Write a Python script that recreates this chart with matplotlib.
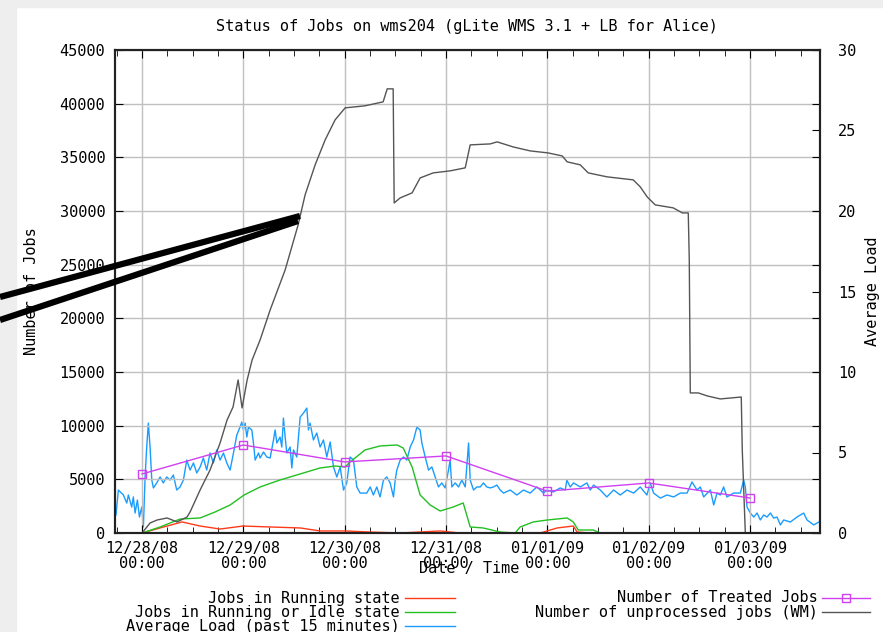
import matplotlib
matplotlib.use("Agg")
import matplotlib.pyplot as plt
from matplotlib.lines import Line2D
from matplotlib.patches import Rectangle
from matplotlib.ticker import MultipleLocator

# ---------------- data (x in days since 12/28/08 00:00) ----------------
tick_labels = ["12/28/08\n00:00", "12/29/08\n00:00", "12/30/08\n00:00", "12/31/08\n00:00",
               "01/01/09\n00:00", "01/02/09\n00:00", "01/03/09\n00:00"]

running_x = [0.0, 0.178, 0.395, 0.573, 0.770, 0.997, 1.264, 1.560, 1.757, 2.004, 2.251,
             2.547, 2.942, 3.139, 3.929, 4.097, 4.255, 4.294, 4.422, 5.953]
running_y = [0, 470, 1030, 650, 370, 650, 560, 470, 190, 190, 90,
             0, 190, 0, 0, 470, 650, 90, 0, 0]

idle_x = [0.0, 0.178, 0.375, 0.573, 0.721, 0.869, 1.007, 1.165, 1.362, 1.560, 1.757, 1.905,
          2.004, 2.053, 2.201, 2.349, 2.517, 2.577, 2.665, 2.744, 2.843, 2.942, 3.070, 3.169,
          3.238, 3.366, 3.534, 3.682, 3.731, 3.860, 3.998, 4.195, 4.255, 4.304, 4.452, 4.521, 5.973]
idle_y = [0, 560, 1300, 1400, 1960, 2610, 3540, 4290, 4940, 5500, 6060, 6240,
          6150, 6620, 7740, 8110, 8200, 7920, 6150, 3540, 2610, 2050, 2420, 2800,
          560, 470, 90, 0, 560, 1030, 1210, 1400, 1030, 280, 280, 0, 0]

load_x = [-0.257, -0.234, -0.184, -0.151, -0.135, -0.102, -0.086, -0.069, -0.046, -0.026,
          -0.003, 0.013, 0.030, 0.046, 0.062, 0.079, 0.096, 0.112, 0.145, 0.178, 0.210, 0.243,
          0.276, 0.309, 0.342, 0.375, 0.408, 0.441, 0.474, 0.507, 0.540, 0.573, 0.605, 0.638,
          0.671, 0.704, 0.737, 0.770, 0.803, 0.836, 0.869, 0.902, 0.935, 0.967, 0.984, 1.000,
          1.017, 1.034, 1.050, 1.083, 1.099, 1.116, 1.149, 1.165, 1.198, 1.231, 1.264, 1.297,
          1.313, 1.330, 1.362, 1.379, 1.395, 1.412, 1.428, 1.461, 1.478, 1.494, 1.527, 1.560,
          1.593, 1.626, 1.642, 1.658, 1.691, 1.724, 1.757, 1.790, 1.823, 1.856, 1.889, 1.922,
          1.955, 1.988, 2.020, 2.053, 2.086, 2.119, 2.152, 2.218, 2.251, 2.283, 2.316, 2.349,
          2.382, 2.415, 2.448, 2.481, 2.498, 2.514, 2.547, 2.580, 2.613, 2.646, 2.679, 2.712,
          2.744, 2.761, 2.794, 2.827, 2.860, 2.892, 2.925, 2.958, 2.991, 3.024, 3.040, 3.057,
          3.090, 3.123, 3.156, 3.189, 3.222, 3.238, 3.271, 3.304, 3.337, 3.369, 3.402, 3.435,
          3.468, 3.501, 3.534, 3.567, 3.633, 3.699, 3.764, 3.830, 3.896, 3.962, 3.995, 4.060,
          4.126, 4.176, 4.192, 4.225, 4.258, 4.324, 4.390, 4.423, 4.456, 4.521, 4.587, 4.653,
          4.719, 4.785, 4.851, 4.916, 4.982, 5.015, 5.048, 5.114, 5.180, 5.246, 5.312, 5.378,
          5.427, 5.476, 5.509, 5.542, 5.608, 5.641, 5.674, 5.706, 5.739, 5.772, 5.838, 5.904,
          5.937, 5.953, 5.970, 6.003, 6.036, 6.069, 6.101, 6.134, 6.167, 6.200, 6.233, 6.266,
          6.299, 6.332, 6.397, 6.463, 6.529, 6.562, 6.628, 6.678]
load_y = [1.12, 2.67, 2.36, 1.86, 2.36, 1.61, 2.24, 1.24, 2.05, 0.99,
          1.61, 0.37, 3.48, 5.34, 6.83, 5.34, 3.29, 2.80, 3.11, 3.48, 3.11, 3.48,
          3.29, 3.60, 2.67, 2.86, 3.29, 4.53, 3.91, 4.35, 3.73, 4.10, 4.66, 3.91,
          4.97, 4.35, 5.16, 4.53, 4.97, 4.35, 3.91, 4.97, 6.09, 6.58, 6.89, 6.40,
          6.83, 5.96, 6.58, 6.40, 5.59, 4.53, 4.97, 4.66, 5.03, 4.72, 4.66, 5.78,
          6.40, 5.59, 5.96, 5.34, 7.14, 5.96, 4.97, 5.34, 4.04, 5.16, 4.72, 7.20,
          7.45, 7.76, 6.40, 6.83, 5.78, 6.21, 5.34, 5.78, 4.72, 5.65, 4.10, 3.48,
          4.10, 2.67, 3.11, 4.72, 4.53, 2.86, 2.48, 2.48, 2.86, 2.36, 2.86, 2.24,
          3.29, 3.48, 3.11, 2.24, 3.29, 3.91, 4.53, 4.72, 4.53, 5.34, 5.78, 6.58,
          6.40, 5.59, 4.72, 3.91, 4.10, 3.48, 2.86, 3.11, 2.80, 3.91, 4.53, 2.86,
          3.11, 2.86, 3.29, 2.86, 5.59, 3.29, 2.67, 2.86, 2.86, 3.11, 2.86, 2.80,
          2.86, 2.98, 2.67, 2.48, 2.67, 2.36, 2.67, 2.48, 2.86, 2.48, 2.67, 2.55,
          2.80, 2.67, 3.29, 2.86, 3.11, 2.86, 3.11, 2.67, 2.98, 2.67, 2.24, 2.67,
          2.36, 2.67, 2.48, 2.86, 2.36, 3.11, 2.48, 2.17, 2.36, 2.24, 2.48, 2.48,
          3.17, 2.67, 2.86, 2.24, 2.67, 1.74, 2.48, 2.36, 2.86, 2.24, 2.48, 2.48,
          3.29, 2.86, 1.61, 1.24, 0.99, 1.24, 0.81, 1.12, 0.99, 1.24, 0.93, 0.99,
          0.50, 0.81, 0.68, 0.99, 1.24, 0.81, 0.50, 0.68]

treated_x = [0, 1, 2, 3, 4, 5, 6]
treated_y = [5500, 8200, 6620, 7180, 3900, 4660, 3260]

unproc_x = [0.0, 0.079, 0.148, 0.247, 0.346, 0.444, 0.474, 0.573, 0.671, 0.770, 0.839, 0.898,
            0.948, 0.987, 1.037, 1.086, 1.165, 1.264, 1.412, 1.540, 1.609, 1.708, 1.807, 1.905,
            2.004, 2.201, 2.379, 2.419, 2.478, 2.483, 2.488, 2.547, 2.665, 2.744, 2.873, 3.040,
            3.189, 3.238, 3.435, 3.504, 3.662, 3.830, 4.008, 4.146, 4.195, 4.324, 4.403, 4.590,
            4.847, 4.916, 4.985, 5.064, 5.242, 5.331, 5.390, 5.400, 5.410, 5.489, 5.578, 5.706,
            5.913, 5.923, 5.953]
unproc_y = [0, 930, 1210, 1400, 1030, 1490, 1960, 4010, 5870, 8390, 10530, 11740,
            14260, 11650, 14260, 16120, 17990, 20780, 24510, 28700, 31500, 34300, 36630, 38490,
            39610, 39800, 40170, 41380, 41380, 35970, 30750, 31220, 31690, 33080, 33550, 33740,
            34020, 36160, 36250, 36440, 35970, 35600, 35410, 35130, 34580, 34300, 33550, 33180,
            32900, 32250, 31310, 30570, 30290, 29820, 29820, 25440, 13050, 13050, 12770, 12490,
            12670, 7740, 0]

legend_left = ["Jobs in Running state", "Jobs in Running or Idle state", "Average Load (past 15 minutes)"]
legend_right = ["Number of Treated Jobs", "Number of unprocessed jobs (WM)"]

# ---------------- style ----------------
C_RED = "#ff3a1a"
C_GREEN = "#22c022"
C_BLUE = "#1a9cff"
C_MAG = "#d040f0"
C_GRAY = "#555555"
FONT = "DejaVu Sans Mono"
FS = 11
plt.rcParams["font.family"] = FONT

W, H = 883, 632
fig = plt.figure(figsize=(W / 100, H / 100), dpi=100)
fig.patch.set_facecolor("white")

def fx(px):
    return px / W

def fy(py):
    return 1 - py / H

# grey frame strips
fig.add_artist(Rectangle((0, 0), fx(16), 1, transform=fig.transFigure, color="#eeeeee", zorder=0))
fig.add_artist(Rectangle((0, fy(7)), 1, 7 / H, transform=fig.transFigure, color="#eeeeee", zorder=0))

L, R, T, B = 115, 820, 50, 533
ax = fig.add_axes([fx(L), fy(B), (R - L) / W, (B - T) / H])
ax2 = ax.twinx()
ax.set_zorder(ax2.get_zorder() + 1)
ax.patch.set_visible(False)

lw = 1.0
ax2.plot(load_x, load_y, color=C_BLUE, lw=lw)
ax.plot(running_x, running_y, color=C_RED, lw=lw)
ax.plot(idle_x, idle_y, color=C_GREEN, lw=lw)
ax.plot(unproc_x, unproc_y, color=C_GRAY, lw=lw)
ax.plot(treated_x, treated_y, color=C_MAG, lw=lw, marker="s", ms=5.5, mfc="none", mec=C_MAG, mew=1.0)

ax.set_xlim(-0.267, 6.69)
ax.set_ylim(0, 45000)
ax2.set_ylim(0, 30)
ax.set_xticks(range(len(tick_labels)))
ax.set_xticklabels(tick_labels, fontsize=FS, linespacing=0.95)
ax.xaxis.set_minor_locator(MultipleLocator(0.25))
ax.set_yticks(range(0, 45001, 5000))
ax.set_yticklabels([str(v) for v in range(0, 45001, 5000)], fontsize=FS)
ax2.set_yticks(range(0, 31, 5))
ax2.set_yticklabels([str(v) for v in range(0, 31, 5)], fontsize=FS)

ax.grid(True, which="major", color="#c0c0c0", lw=1.0)
ax.tick_params(axis="x", which="both", direction="in", top=True, bottom=True, pad=6)
ax.tick_params(axis="x", which="major", length=6)
ax.tick_params(axis="x", which="minor", length=4)
ax.tick_params(axis="y", direction="in", length=6, left=True, right=True, pad=7)
ax2.tick_params(axis="y", direction="in", length=6, pad=13)
for a in (ax, ax2):
    for s in a.spines.values():
        s.set_color("#222222")
        s.set_linewidth(1.5)

ax.set_xlabel("Date / Time", fontsize=FS)
ax.xaxis.set_label_coords((469 - L) / (R - L), (B - 569) / (B - T))
ax.xaxis.label.set_va("center")
ax.set_ylabel("Number of Jobs", fontsize=FS)
ax.yaxis.set_label_coords((32 - L) / (R - L), 0.5)
ax.yaxis.label.set_va("center")
ax2.set_ylabel("Average Load", fontsize=FS)
ax2.yaxis.set_label_coords((873 - L) / (R - L), 0.5)
ax2.yaxis.label.set_va("center")

fig.text(fx(467), fy(27), "Status of Jobs on wms204 (gLite WMS 3.1 + LB for Alice)",
         ha="center", va="center", fontsize=FS)

# legend (manual, two columns)
left_cols = [C_RED, C_GREEN, C_BLUE]
rows = [598, 612, 626]
for lab, c, yy in zip(legend_left, left_cols, rows):
    fig.text(fx(400), fy(yy), lab, ha="right", va="center", fontsize=FS)
    fig.add_artist(Line2D([fx(405), fx(455)], [fy(yy), fy(yy)], color=c, lw=lw, transform=fig.transFigure))
for lab, c, yy, mk in zip(legend_right, [C_MAG, C_GRAY], rows[:2], ["s", None]):
    fig.text(fx(818), fy(yy), lab, ha="right", va="center", fontsize=FS)
    fig.add_artist(Line2D([fx(822), fx(870)], [fy(yy), fy(yy)], color=c, lw=lw, transform=fig.transFigure))
    if mk:
        fig.add_artist(Line2D([fx(846)], [fy(yy)], color=c, marker="s", ms=5.5, mfc="none",
                              mec=c, transform=fig.transFigure))

# black pointer strokes overlaid on the image
fig.add_artist(Line2D([0, fx(300)], [fy(297), fy(216)], color="black", lw=4.5,
                      solid_capstyle="butt", transform=fig.transFigure, zorder=10))
fig.add_artist(Line2D([0, fx(298)], [fy(320), fy(221)], color="black", lw=4.5,
                      solid_capstyle="butt", transform=fig.transFigure, zorder=10))

fig.savefig("out.png", dpi=100, facecolor=fig.get_facecolor())
